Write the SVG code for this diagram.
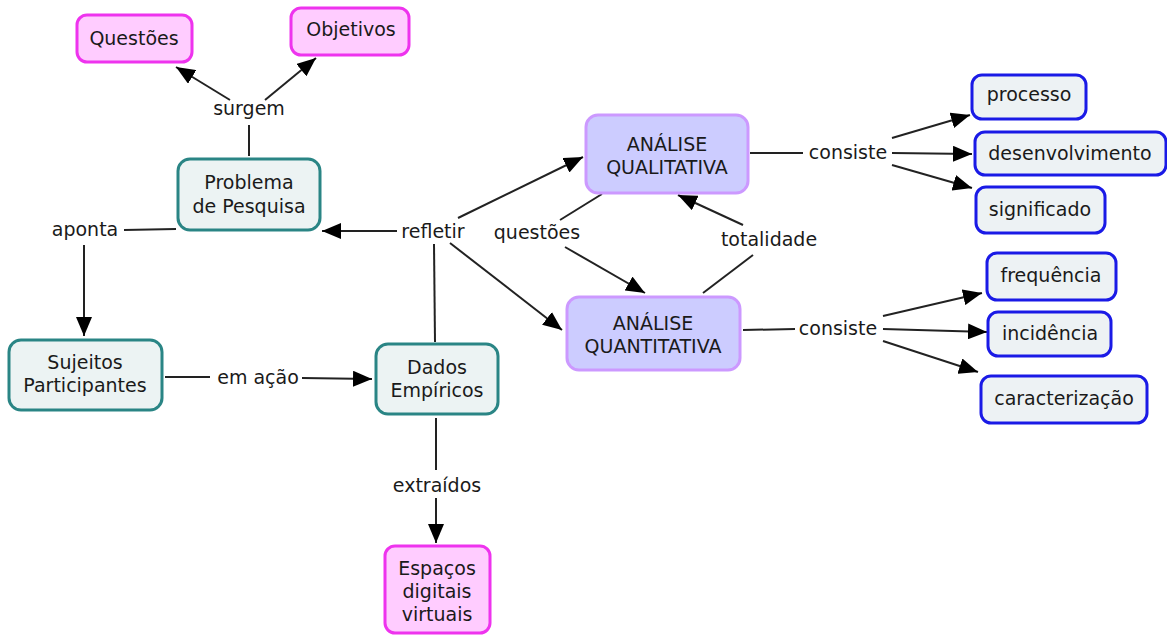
<svg xmlns="http://www.w3.org/2000/svg" width="1167" height="635" viewBox="0 0 1167 635">
<style>
text{font-family:"DejaVu Sans","Verdana",sans-serif;font-size:19px;fill:#1a1a1a;text-anchor:middle}
.teal{fill:#ecf3f3;stroke:#2a8585;stroke-width:3}
.mag{fill:#ffccff;stroke:#ee33ee;stroke-width:3}
.pur{fill:#ccccff;stroke:#cc99ff;stroke-width:3}
.blu{fill:#edf2f4;stroke:#1a1ae6;stroke-width:3}
.ln{stroke:#222;stroke-width:2;fill:none}
.ar{stroke:#222;stroke-width:2;fill:none;marker-end:url(#ah)}
</style>
<defs>
<marker id="ah" viewBox="0 0 10 10" refX="10" refY="5" markerWidth="9.5" markerHeight="8" orient="auto" markerUnits="strokeWidth" preserveAspectRatio="none">
<path d="M0,0L10,5L0,10z" fill="#000"/>
</marker>
</defs>
<rect width="1167" height="635" fill="#fff"/>
<g id="connectors">
<line class="ar" x1="230" y1="100" x2="176" y2="67"/>
<line class="ar" x1="265" y1="100" x2="316" y2="58"/>
<line class="ln" x1="249" y1="125" x2="249" y2="156"/>
<line class="ln" x1="124" y1="230" x2="176" y2="229"/>
<line class="ar" x1="84" y1="245" x2="84" y2="336"/>
<line class="ar" x1="397" y1="231" x2="322" y2="231"/>
<line class="ln" x1="434" y1="244" x2="435" y2="342"/>
<line class="ar" x1="458" y1="218" x2="583" y2="157"/>
<line class="ar" x1="450" y1="243" x2="562" y2="330"/>
<line class="ln" x1="165" y1="377" x2="210" y2="377"/>
<line class="ar" x1="302" y1="378" x2="372" y2="379"/>
<line class="ln" x1="436" y1="418" x2="436" y2="470"/>
<line class="ar" x1="436" y1="498" x2="436" y2="543"/>
<line class="ln" x1="602" y1="194" x2="560" y2="220"/>
<line class="ar" x1="565" y1="247" x2="645" y2="293"/>
<line class="ln" x1="703" y1="293" x2="753" y2="255"/>
<line class="ar" x1="743" y1="225" x2="678" y2="195"/>
<line class="ln" x1="750" y1="153" x2="803" y2="153"/>
<line class="ar" x1="892" y1="138" x2="970" y2="115"/>
<line class="ar" x1="892" y1="153" x2="972" y2="154"/>
<line class="ar" x1="892" y1="165" x2="972" y2="188"/>
<line class="ln" x1="743" y1="330" x2="795" y2="329"/>
<line class="ar" x1="883" y1="316" x2="982" y2="293"/>
<line class="ar" x1="883" y1="329" x2="987" y2="332"/>
<line class="ar" x1="883" y1="341" x2="978" y2="372"/>
<text x="249" y="115">surgem</text>
<text x="85" y="236">aponta</text>
<text x="433" y="238">refletir</text>
<text x="258" y="384">em ação</text>
<text x="437" y="492">extraídos</text>
<text x="537" y="239">questões</text>
<text x="769" y="246">totalidade</text>
<text x="848" y="159">consiste</text>
<text x="838" y="335">consiste</text>
</g>
<g id="n-questoes"><rect class="mag" x="77" y="15" width="115" height="47" rx="10"/><text x="134" y="45">Questões</text></g>
<g id="n-objetivos"><rect class="mag" x="291" y="8" width="118" height="47" rx="10"/><text x="351" y="36">Objetivos</text></g>
<g id="n-problema"><rect class="teal" x="178" y="159" width="142" height="71" rx="12"/><text x="249" y="189">Problema</text><text x="249" y="213">de Pesquisa</text></g>
<g id="n-sujeitos"><rect class="teal" x="9" y="340" width="153" height="70" rx="12"/><text x="85" y="369">Sujeitos</text><text x="85" y="392">Participantes</text></g>
<g id="n-dados"><rect class="teal" x="376" y="344" width="122" height="70" rx="12"/><text x="437" y="374">Dados</text><text x="437" y="397">Empíricos</text></g>
<g id="n-espacos"><rect class="mag" x="385" y="546" width="105" height="87" rx="10"/><text x="437" y="575">Espaços</text><text x="437" y="598">digitais</text><text x="437" y="621">virtuais</text></g>
<g id="n-qual"><rect class="pur" x="586" y="115" width="162" height="78" rx="12"/><text x="667" y="151">ANÁLISE</text><text x="667" y="174">QUALITATIVA</text></g>
<g id="n-quant"><rect class="pur" x="567" y="297" width="173" height="73" rx="12"/><text x="653" y="330">ANÁLISE</text><text x="653" y="353">QUANTITATIVA</text></g>
<g id="n-processo"><rect class="blu" x="972" y="75" width="114" height="44" rx="10"/><text x="1029" y="101">processo</text></g>
<g id="n-desenv"><rect class="blu" x="975" y="132" width="191" height="43" rx="10"/><text x="1070" y="160">desenvolvimento</text></g>
<g id="n-signif"><rect class="blu" x="976" y="187" width="129" height="46" rx="10"/><text x="1040" y="216">significado</text></g>
<g id="n-freq"><rect class="blu" x="987" y="253" width="129" height="47" rx="10"/><text x="1051" y="282">frequência</text></g>
<g id="n-incid"><rect class="blu" x="988" y="312" width="123" height="44" rx="10"/><text x="1050" y="340">incidência</text></g>
<g id="n-caract"><rect class="blu" x="981" y="376" width="166" height="47" rx="10"/><text x="1064" y="405">caracterização</text></g>
</svg>
